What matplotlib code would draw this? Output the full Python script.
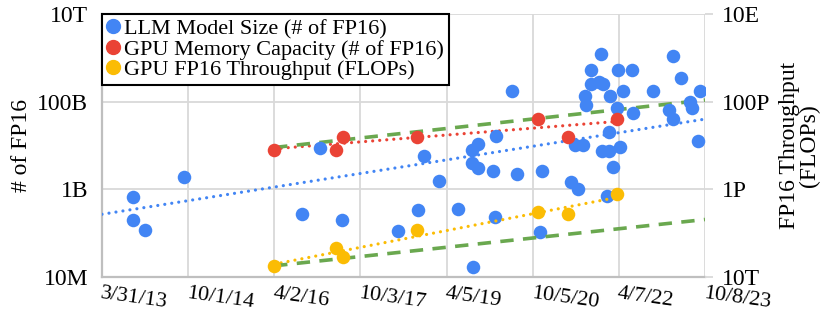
import numpy as np
import matplotlib
matplotlib.use("Agg")
import matplotlib.pyplot as plt
import matplotlib.dates as mdates
import pandas as pd
from matplotlib.lines import Line2D

# ---------------- data ----------------
llm_dates = ["2013-10-13", "2013-10-13", "2013-12-28", "2014-09-06", "2016-09-24",
             "2017-01-19", "2017-06-10", "2018-05-31", "2018-10-07", "2018-11-14",
             "2019-02-14", "2019-06-17", "2019-09-16", "2019-10-21", "2019-09-16",
             "2019-10-21", "2020-01-28", "2020-02-12", "2020-02-08", "2019-09-22",
             "2020-05-28", "2020-06-30", "2020-11-20", "2020-12-01", "2021-06-07",
             "2021-07-21", "2021-07-02", "2021-08-20", "2021-09-04", "2021-09-10",
             "2021-10-10", "2021-10-10", "2021-12-03", "2021-12-25", "2021-12-12",
             "2021-12-18", "2022-02-06", "2022-04-15", "2022-02-06", "2022-03-03",
             "2022-01-20", "2022-02-10", "2022-03-29", "2022-04-04", "2022-05-02",
             "2022-06-29", "2022-07-05", "2022-11-09", "2023-02-23", "2023-03-16",
             "2023-03-20", "2023-05-08", "2023-07-04", "2023-07-18", "2023-09-06",
             "2023-08-26"]
llm_params = [6.7e8, 2.05e8, 1.19e8, 1.9e9, 2.7e8,
              8.7e9, 2.05e8, 1.15e8, 3.4e8, 5.9e9,
              1.52e9, 3.5e8, 8.1e9, 1.09e10, 3.96e9,
              3.0e9, 2.57e9, 1.69e10, 2.35e8, 1.7e7,
              1.75e11, 2.27e9, 1.07e8, 2.57e9, 1.47e9,
              1.03e9, 1.05e10, 1.05e10, 1.37e11, 8.5e10,
              5.3e11, 2.5e11, 2.85e11, 2.5e11, 1.21e12,
              7.4e9, 7.4e9, 9.1e9, 2.0e10, 3.2e9,
              7.0e8, 1.37e11, 7.0e10, 5.3e11, 1.78e11,
              5.3e11, 5.5e10, 1.78e11, 6.6e10, 4.0e10,
              1.11e12, 3.4e11, 1.0e11, 7.0e10, 1.78e11,
              1.3e10]

gpu_dates = ["2016-04-01", "2017-05-01", "2017-06-17", "2018-09-27",
             "2020-11-10", "2021-05-17", "2022-03-25"]
gpu_mem_fp16 = [8.0e9, 7.8e9, 1.6e10, 1.6e10, 4.0e10, 1.6e10, 4.0e10]
gpu_flops = [1.8e13, 4.6e13, 2.9e13, 1.2e14, 3.05e14, 2.75e14, 7.7e14]

# LLM trendline (start / end of the dotted blue line)
llm_trend_dates = ["2013-03-31", "2023-10-08"]
llm_trend_vals = [2.7e8, 4.0e10]

# reference growth lines (dashed green): start/end dates and values
ref_dates = ["2016-04-01", "2023-10-08"]
ref_upper = [9.0e9, 1.09e11]      # left axis (# of FP16)
ref_lower = [1.8e13, 2.05e14]     # right axis (FLOPs)

xtick_dates = ["2013-03-31", "2014-10-01", "2016-04-02", "2017-10-03",
               "2019-04-05", "2020-10-05", "2022-04-07", "2023-10-08"]
xtick_labels = ["3/31/13", "10/1/14", "4/2/16", "10/3/17",
                "4/5/19", "10/5/20", "4/7/22", "10/8/23"]
left_ticks = [1e7, 1e9, 1e11, 1e13]
left_labels = ["10M", "1B", "100B", "10T"]
right_ticks = [1e13, 1e15, 1e17, 1e19]
right_labels = ["10T", "1P", "100P", "10E"]

legend_labels = ["LLM Model Size (# of FP16)", "GPU Memory Capacity (# of FP16)",
                 "GPU FP16 Throughput (FLOPs)"]

# ---------------- style ----------------
BLUE = "#4285F4"
RED = "#EA4335"
YELLOW = "#FBBC04"
GREEN = "#6AA84F"
GRID = "#D9D9D9"
AXC = "#BFBFBF"

plt.rcParams["font.family"] = ["Liberation Serif", "DejaVu Serif"]

fig = plt.figure(figsize=(8.31, 3.16), dpi=100)
ax = fig.add_axes([102 / 831, 1 - 277 / 316, 603 / 831, 263 / 316])
ax2 = ax.twinx()

ld = pd.to_datetime(llm_dates)
gd = pd.to_datetime(gpu_dates)
rd = pd.to_datetime(ref_dates)
xmin = pd.Timestamp(xtick_dates[0])
xmax = pd.Timestamp(xtick_dates[-1])

ax.set_yscale("log")
ax2.set_yscale("log")
ax.set_ylim(1e7, 1e13)
ax2.set_ylim(1e13, 1e19)
ax.set_xlim(xmin, xmax)

dot_kw = dict(lw=2.3, dash_capstyle="round", solid_capstyle="round")


def trend(dates, vals, x0, x1):
    xn = mdates.date2num(dates)
    k, b = np.polyfit(xn, np.log10(vals), 1)
    xs = np.array([mdates.date2num(x0), mdates.date2num(x1)])
    return mdates.num2date(xs), 10 ** (k * xs + b)


# trendlines
ax.plot(pd.to_datetime(llm_trend_dates), llm_trend_vals, color=BLUE,
        dashes=(0.01, 2.2), zorder=3, **dot_kw)
tx, ty = trend(gd, gpu_mem_fp16, gd.min(), gd.max())
ax.plot(tx, ty, color=RED, dashes=(0.01, 2.2), zorder=3, **dot_kw)
tx, ty = trend(gd, gpu_flops, gd.min(), gd.max())
ax2.plot(tx, ty, color=YELLOW, dashes=(0.01, 2.2), zorder=3, **dot_kw)

# green dashed reference lines
ax.plot(rd, ref_upper, color=GREEN, lw=2.6, dashes=(3.7, 2.6), zorder=4)
ax2.plot(rd, ref_lower, color=GREEN, lw=2.6, dashes=(3.7, 2.6), zorder=4)

# scatter points
ms = 95
ax.scatter(ld, llm_params, s=ms, color=BLUE, zorder=5, linewidths=0)
ax.scatter(gd, gpu_mem_fp16, s=ms, color=RED, zorder=6, linewidths=0)
ax2.scatter(gd, gpu_flops, s=ms, color=YELLOW, zorder=6, linewidths=0)

# ticks / grid
ax.set_xticks(pd.to_datetime(xtick_dates))
ax.set_xticklabels(xtick_labels, rotation=-8, ha="left", va="top",
                   rotation_mode="anchor", fontsize=16)
ax.set_yticks(left_ticks)
ax.set_yticklabels(left_labels, fontsize=17)
ax.yaxis.set_minor_locator(matplotlib.ticker.NullLocator())
ax2.set_yticks(right_ticks)
ax2.set_yticklabels(right_labels, fontsize=17)
ax2.yaxis.set_minor_locator(matplotlib.ticker.NullLocator())

ax.grid(True, color=GRID, lw=1.3)
ax.set_axisbelow(True)
ax.tick_params(axis="x", length=0, pad=5)
ax.tick_params(axis="y", length=0, pad=10)
ax2.tick_params(axis="y", length=6, color=GRID, width=1.3, pad=6)

for a in (ax, ax2):
    for s in a.spines.values():
        s.set_visible(False)
for side in ("bottom", "left"):
    ax.spines[side].set_visible(True)
    ax.spines[side].set_color(AXC)
    ax.spines[side].set_linewidth(1.6)

ax.set_ylabel("# of FP16", fontsize=17, labelpad=4)
ax2.set_ylabel("FP16 Throughput\n(FLOPs)", fontsize=17, labelpad=6,
               linespacing=0.95)

# legend
handles = [Line2D([], [], marker="o", ls="", color=c, markersize=10)
           for c in (BLUE, RED, YELLOW)]
leg = ax2.legend(handles, legend_labels, loc="upper left", bbox_to_anchor=(0, 1),
                 borderaxespad=0, fontsize=16, frameon=True, fancybox=False,
                 edgecolor="black", framealpha=1, handlelength=0.6,
                 handletextpad=0.2, borderpad=0.2, labelspacing=0.0)
leg.get_frame().set_linewidth(1.5)
leg.set_zorder(10)

fig.savefig("out.png", dpi=100)
